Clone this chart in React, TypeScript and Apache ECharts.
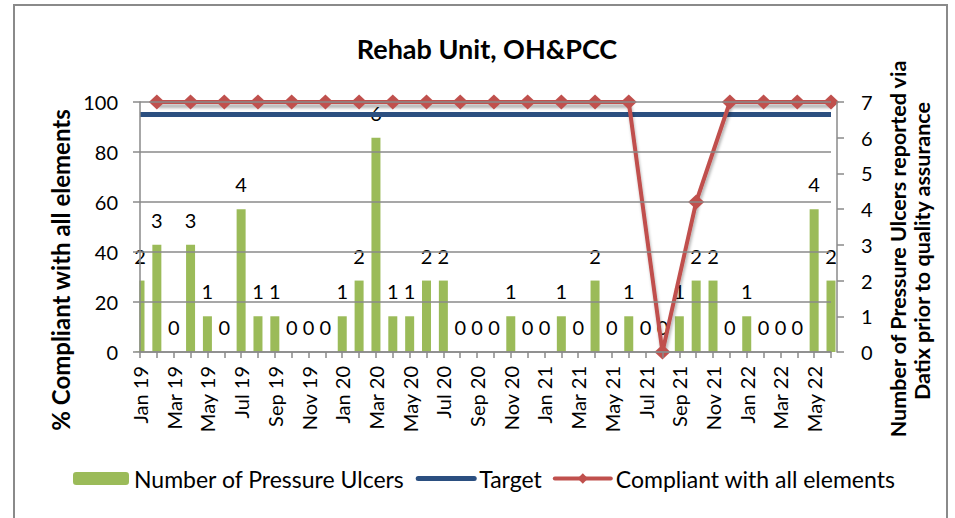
import React, { useEffect, useRef } from "react";
import * as echarts from "echarts";

const categories = [
  "Jan 19", "Feb 19", "Mar 19", "Apr 19", "May 19", "Jun 19", "Jul 19", "Aug 19", "Sep 19", "Oct 19", "Nov 19", "Dec 19",
  "Jan 20", "Feb 20", "Mar 20", "Apr 20", "May 20", "Jun 20", "Jul 20", "Aug 20", "Sep 20", "Oct 20", "Nov 20", "Dec 20",
  "Jan 21", "Feb 21", "Mar 21", "Apr 21", "May 21", "Jun 21", "Jul 21", "Aug 21", "Sep 21", "Oct 21", "Nov 21", "Dec 21",
  "Jan 22", "Feb 22", "Mar 22", "Apr 22", "May 22", "Jun 22",
];

const pressureUlcers = [
  2, 3, 0, 3, 1, 0, 4, 1, 1, 0, 0, 0,
  1, 2, 6, 1, 1, 2, 2, 0, 0, 0, 1, 0,
  0, 1, 0, 2, 0, 1, 0, 0, 1, 2, 2, 0,
  1, 0, 0, 0, 4, 2,
];

const target = [
  95, 95, 95, 95, 95, 95, 95, 95, 95, 95, 95, 95,
  95, 95, 95, 95, 95, 95, 95, 95, 95, 95, 95, 95,
  95, 95, 95, 95, 95, 95, 95, 95, 95, 95, 95, 95,
  95, 95, 95, 95, 95, 95,
];

const compliant = [
  null, 100, null, 100, null, 100, null, 100, null, 100, null, 100,
  null, 100, null, 100, null, 100, null, 100, null, 100, null, 100,
  null, 100, null, 100, null, 100, null, 0, null, 60, null, 100,
  null, 100, null, 100, null, 100,
];

const leftTicks = { min: 0, max: 100, interval: 20 };
const rightTicks = { min: 0, max: 7, interval: 1 };

const FONT = "Lato, 'Noto Sans', sans-serif";
const GRAY = "#8a8a8a";
const BLUE = "#2B4F80";
const RED = "#C0504D";
const GREEN = "#9BBB59";

export default function App() {
  const ref = useRef<HTMLDivElement>(null);
  useEffect(() => {
    if (!ref.current) return;
    const chart = echarts.init(ref.current, null, { renderer: "svg" });
    chart.setOption({
      animation: false,
      backgroundColor: "#ffffff",
      textStyle: { fontFamily: FONT },
      title: {
        text: "Rehab Unit, OH&PCC",
        left: 482,
        textAlign: "center",
        top: 30,
        textStyle: { fontFamily: FONT, fontSize: 27, fontWeight: "bold", color: "#000" },
      },
      legend: {
        left: 68,
        top: 462,
        itemWidth: 56,
        itemHeight: 13,
        itemGap: 11,
        textStyle: { fontFamily: FONT, fontSize: 23, color: "#000" },
        data: [
          { name: "Number of Pressure Ulcers" },
          {
            name: "Target",
            itemStyle: { opacity: 0 },
            lineStyle: { width: 5, cap: "round" },
          },
          {
            name: "Compliant with all elements",
            lineStyle: { width: 4, cap: "round" },
          },
        ],
      },
      grid: { left: 140, right: 124, top: 102, bottom: 166, containLabel: false },
      xAxis: {
        type: "category",
        data: categories,
        boundaryGap: false,
        z: 10,
        axisLine: { lineStyle: { color: GRAY, width: 1.5 } },
        axisTick: { show: true, interval: 0, length: 6, lineStyle: { color: GRAY, width: 1.5 } },
        axisLabel: {
          interval: 1,
          rotate: 90,
          margin: 14,
          fontFamily: FONT,
          fontSize: 20,
          color: "#000",
        },
      },
      yAxis: [
        {
          type: "value",
          ...leftTicks,
          position: "left",
          z: 10,
          axisLine: { show: true, lineStyle: { color: GRAY, width: 1.5 } },
          axisTick: { show: true, length: 7, lineStyle: { color: GRAY, width: 1.5 } },
          splitLine: { show: true, lineStyle: { color: GRAY, width: 1.5 } },
          axisLabel: { margin: 22, fontFamily: FONT, fontSize: 20, color: "#000" },
        },
        {
          type: "value",
          ...rightTicks,
          position: "right",
          offset: 6,
          z: 10,
          axisLine: { show: true, lineStyle: { color: GRAY, width: 1.5 } },
          axisTick: { show: true, length: 7, lineStyle: { color: GRAY, width: 1.5 } },
          splitLine: { show: false },
          axisLabel: { margin: 24, fontFamily: FONT, fontSize: 20, color: "#000" },
        },
      ],
      graphic: [
        {
          type: "rect",
          shape: { x: 14, y: 5, width: 933, height: 530 },
          style: { fill: "none", stroke: GRAY, lineWidth: 2 },
          silent: true,
          z: 0,
        },
        {
          // mask the half of the first bar that falls left of the plot area
          type: "rect",
          shape: { x: 126, y: 265, width: 13.3, height: 86.5 },
          style: { fill: "#ffffff" },
          silent: true,
          z: 5,
        },
        {
          type: "text",
          x: 60,
          y: 270,
          rotation: Math.PI / 2,
          style: {
            text: "% Compliant with all elements",
            textAlign: "center",
            textVerticalAlign: "middle",
            fontFamily: FONT,
            fontSize: 24,
            fontWeight: "bold",
            fill: "#000",
          },
        },
        {
          type: "text",
          x: 898,
          y: 249,
          rotation: Math.PI / 2,
          style: {
            text: "Number of Pressure Ulcers reported via",
            textAlign: "center",
            textVerticalAlign: "middle",
            fontFamily: FONT,
            fontSize: 21.5,
            fontWeight: "bold",
            fill: "#000",
          },
        },
        {
          type: "text",
          x: 922,
          y: 251,
          rotation: Math.PI / 2,
          style: {
            text: "Datix prior to quality assurance",
            textAlign: "center",
            textVerticalAlign: "middle",
            fontFamily: FONT,
            fontSize: 21.5,
            fontWeight: "bold",
            fill: "#000",
          },
        },
      ],
      series: [
        {
          name: "Number of Pressure Ulcers",
          type: "bar",
          yAxisIndex: 1,
          data: pressureUlcers,
          barWidth: 9,
          z: 2,
          itemStyle: { color: GREEN },
          label: {
            show: true,
            position: "top",
            distance: 15,
            fontFamily: FONT,
            fontSize: 20,
            color: "#000",
          },
        },
        {
          name: "Target",
          type: "line",
          yAxisIndex: 0,
          data: target,
          symbol: "none",
          z: 6,
          lineStyle: { color: BLUE, width: 5 },
          itemStyle: { color: BLUE },
        },
        {
          name: "Compliant with all elements",
          type: "line",
          yAxisIndex: 0,
          data: compliant,
          connectNulls: true,
          showSymbol: true,
          showAllSymbol: true,
          symbol: "diamond",
          symbolSize: [16, 15],
          z: 7,
          lineStyle: {
            color: RED,
            width: 4,
            shadowColor: "rgba(0,0,0,0.3)",
            shadowBlur: 3,
            shadowOffsetY: 4,
            shadowOffsetX: 1,
          },
          itemStyle: { color: RED },
        },
      ],
    });
    return () => chart.dispose();
  }, []);
  return (
    <div
      ref={ref}
      style={{ position: "fixed", left: 0, top: 0, width: 955, height: 518 }}
    />
  );
}
